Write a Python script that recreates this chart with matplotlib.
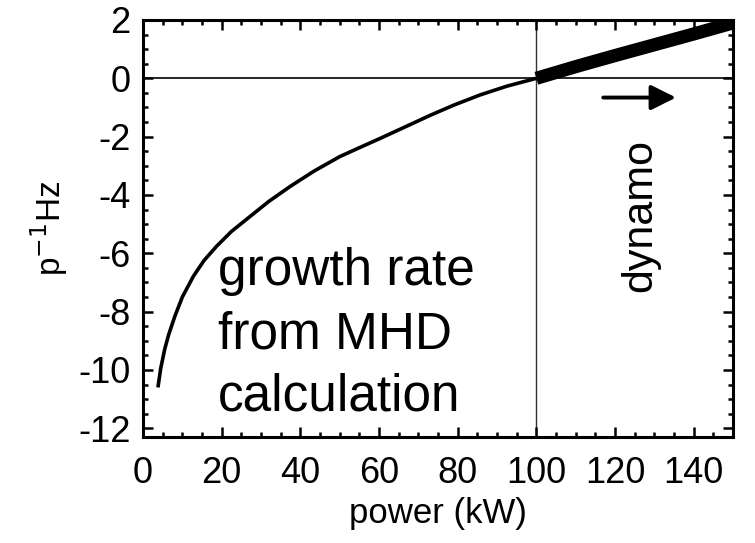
import matplotlib.pyplot as plt
from matplotlib.ticker import MultipleLocator

plt.rcParams['font.family'] = ['Liberation Sans', 'DejaVu Sans']
plt.rcParams['axes.unicode_minus'] = False

# growth rate below threshold (thin) and above threshold (thick, dynamo regime)
power_sub = [3.8, 4.5, 5.5, 6.5, 8.1, 10.0, 12.8, 15.5, 18.7, 22.5, 27.2, 32.0,
             37.4, 43.5, 50.1, 55.0, 60.3, 65.3, 73.0, 79.0, 85.7, 92.5, 100.0]
rate_sub = [-10.6, -9.95, -9.3, -8.8, -8.16, -7.5, -6.79, -6.25, -5.76, -5.25,
            -4.74, -4.22, -3.71, -3.18, -2.68, -2.38, -2.06, -1.75, -1.27,
            -0.92, -0.57, -0.27, 0.0]
power_dyn = [100.0, 110.0, 120.0, 130.0, 140.0, 150.0]
rate_dyn = [0.0, 0.4, 0.78, 1.15, 1.52, 1.9]

xticks = list(range(0, 141, 20))
yticks = list(range(-12, 3, 2))

fig = plt.figure(figsize=(7.55, 5.43), dpi=100)
ax = fig.add_axes([0.1894, 0.1952, 0.7815, 0.768])

ax.axhline(0, color='black', lw=1.2, zorder=1)
ax.axvline(100, color='#333333', lw=1.0, zorder=1)

ax.plot(power_sub, rate_sub, color='black', lw=2.6, solid_capstyle='butt', zorder=3)
ax.plot(power_dyn, rate_dyn, color='black', lw=9.5, solid_capstyle='butt', zorder=3)

ax.annotate('', xy=(135.5, -0.66), xytext=(117, -0.66),
            arrowprops=dict(arrowstyle='-|>', lw=2.8, color='black',
                            mutation_scale=38, shrinkA=0, shrinkB=0))
ax.text(126.4, -4.7, 'dynamo', rotation=90, fontsize=31,
        ha='center', va='center')
ax.text(19, -5.8, 'growth rate\nfrom MHD\ncalculation', fontsize=37,
        ha='left', va='top', linespacing=1.36)

ax.set_xlim(0, 150)
ax.set_ylim(-12.3, 2)
ax.set_xticks(xticks)
ax.set_yticks(yticks)
ax.xaxis.set_minor_locator(MultipleLocator(5))
ax.yaxis.set_minor_locator(MultipleLocator(0.5))
ax.tick_params(which='both', direction='in', top=True, right=True, width=1.8)
ax.tick_params(which='major', length=7, labelsize=26)
ax.tick_params(axis='x', which='major', pad=14)
ax.tick_params(axis='y', which='major', pad=9)
ax.tick_params(which='minor', length=3.5)
for s in ax.spines.values():
    s.set_linewidth(2.2)

ax.set_xlabel('power (kW)', fontsize=25, labelpad=4)
ax.set_ylabel('p$^{-1}$Hz', fontsize=24, labelpad=6)

fig.savefig('out.png', dpi=100)
